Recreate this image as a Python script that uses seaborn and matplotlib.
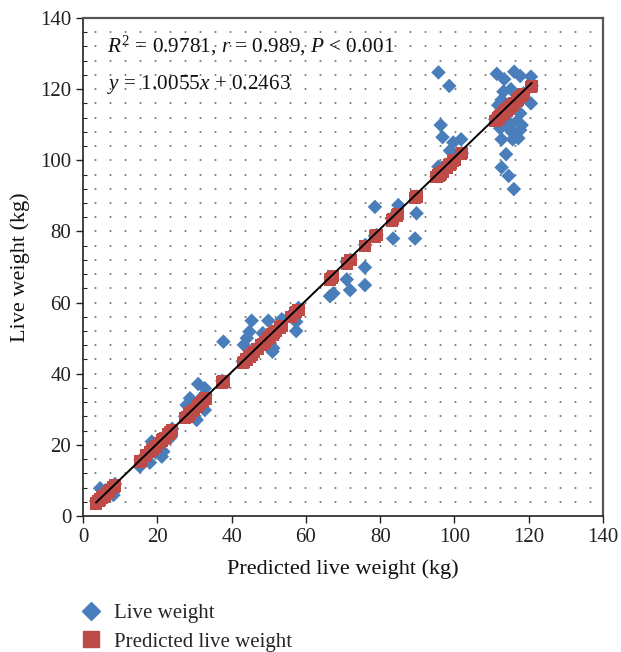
import numpy as np
import pandas as pd
import seaborn as sns
import matplotlib.pyplot as plt
from matplotlib.ticker import MultipleLocator
from matplotlib.lines import Line2D

# Predicted live weight (x) and observed live weight (y), kg
predicted = [
    3.5, 4.2, 4.6, 5.2, 5.5, 6.0, 6.5, 7.2, 8.2, 8.6,
    15.3, 15.5, 17.0, 18.0, 18.5, 18.8, 19.5, 20.5, 21.2, 21.6, 22.0, 23.0, 23.5, 24.0,
    27.5, 27.9, 28.5, 28.8, 29.3, 29.8, 30.6, 30.6, 31.0, 31.5, 32.0, 32.4, 32.8, 32.8, 33.0,
    37.5, 37.8,
    43.0, 43.3, 44.0, 44.1, 44.8, 45.0, 45.4, 46.0, 47.0, 48.0, 48.4, 49.0, 49.9, 50.0,
    50.3, 51.0, 51.2, 51.5, 52.0, 53.0, 53.5,
    56.0, 57.0, 57.4, 57.4, 58.0,
    66.5, 67.0, 67.4, 71.0, 71.0, 71.9, 72.0, 75.9, 75.9, 76.0,
    78.6, 78.6, 79.0, 83.1, 83.5, 84.5, 84.9, 89.4, 89.7, 89.8,
    95.2, 95.7, 95.7, 96.0, 96.3, 96.8, 97.0, 98.0, 98.6, 98.8, 99.0, 99.7, 100.0, 101.8, 102.0,
    111.4, 113.4, 116.1, 117.7, 120.6, 113.2, 115.2, 112.7, 111.8, 120.6, 117.7, 116.8, 118.1,
    117.7, 112.3, 114.5, 115.4, 112.7, 115.7, 117.2, 113.9, 112.7, 114.6, 116.0, 114.1,
    111.0, 112.0, 113.0, 114.0, 115.0, 116.0, 117.0, 118.6, 120.8,
]
live = [
    4.2, 4.8, 7.8, 5.5, 6.4, 7.2, 6.8, 8.0, 5.9, 9.0,
    13.9, 15.8, 16.0, 15.0, 20.9, 19.0, 19.8, 21.0, 16.7, 18.1, 22.5, 23.2, 22.0, 24.5,
    28.0, 31.2, 29.0, 33.1, 28.4, 30.0, 27.0, 31.5, 37.1, 32.0, 33.0, 33.8, 35.9, 29.8, 34.0,
    38.0, 49.0,
    43.5, 48.1, 44.0, 50.0, 51.8, 45.5, 54.9, 46.5, 47.5, 48.5, 51.4, 49.3, 54.9, 50.2,
    48.6, 46.2, 47.2, 51.5, 52.5, 53.0, 55.3,
    56.5, 57.5, 54.6, 52.0, 58.5,
    61.8, 67.0, 62.6, 66.5, 71.5, 63.5, 72.0, 69.9, 64.9, 76.2,
    86.9, 78.7, 79.0, 83.7, 78.0, 85.1, 87.4, 78.0, 89.8, 85.1,
    95.5, 124.7, 98.2, 96.5, 109.9, 106.5, 97.5, 98.5, 120.9, 102.7, 99.5, 105.0, 100.5, 105.9, 102.0,
    124.3, 122.8, 124.9, 123.7, 123.5, 119.3, 120.0, 117.0, 115.5, 116.0, 113.2, 110.9, 109.9,
    108.5, 109.0, 109.4, 108.0, 105.9, 105.9, 106.2, 101.7, 98.0, 95.6, 91.9, 111.3,
    111.5, 112.5, 113.5, 114.5, 115.5, 116.5, 117.5, 118.8, 121.0,
]

slope, intercept = 1.0055, 0.2463
stats_text = r"$R^2$ = 0.9781, $r$ = 0.989, $P$ < 0.001"
eq_text = r"$y$ = 1.0055$x$ + 0.2463"

df = pd.DataFrame({"predicted": predicted, "live": live})

sns.set_style("ticks")
plt.rcParams["font.family"] = ["Liberation Serif", "DejaVu Serif"]
plt.rcParams["mathtext.fontset"] = "custom"
plt.rcParams["mathtext.rm"] = "Liberation Serif"
plt.rcParams["mathtext.it"] = "Liberation Serif:italic"

blue = "#4A7EBB"
red = "#BE4B48"

fig = plt.figure(figsize=(6.21, 6.52), dpi=100)
ax = fig.add_axes([0.1337, 0.2086, 0.8373, 0.7638])

# dotted horizontal grid every 4 kg
for gy in np.arange(4, 140, 4):
    ax.axhline(gy, color="#666666", lw=1.2, linestyle=(2, (1.0, 8.0)), zorder=0)

sns.scatterplot(data=df, x="predicted", y="live", marker="D", s=55, color=blue,
                edgecolor="none", ax=ax, zorder=2)
sns.scatterplot(x=df["predicted"], y=df["predicted"], marker="s", s=78, color=red,
                edgecolor="none", ax=ax, zorder=3)

xl = np.array([df["predicted"].min(), df["predicted"].max()])
ax.plot(xl, slope * xl + intercept, color="black", lw=1.4, zorder=4)

ax.set_xlim(0, 140)
ax.set_ylim(0, 140)
ax.xaxis.set_major_locator(MultipleLocator(20))
ax.yaxis.set_major_locator(MultipleLocator(20))
ax.yaxis.set_minor_locator(MultipleLocator(4))
ax.tick_params(axis="both", which="major", direction="out", length=5, width=1,
               labelsize=15, colors="#222222")
ax.tick_params(axis="y", which="minor", direction="in", length=3, width=0.8)

for side in ["left", "bottom"]:
    ax.spines[side].set_color("#222222")
    ax.spines[side].set_linewidth(1.2)
for side in ["top", "right"]:
    ax.spines[side].set_color("#555555")
    ax.spines[side].set_linewidth(1.6)

ax.set_xlabel("Predicted live weight (kg)", fontsize=16, labelpad=9, color="#111111")
ax.set_ylabel("Live weight (kg)", fontsize=16, labelpad=7, color="#111111")

ax.text(0.046, 0.943, stats_text, transform=ax.transAxes, fontsize=15.3,
        ha="left", va="center", color="#111111")
ax.text(0.046, 0.866, eq_text, transform=ax.transAxes, fontsize=15.3,
        ha="left", va="center", color="#111111")

handles = [
    Line2D([], [], marker="D", color=blue, linestyle="none", markersize=9),
    Line2D([], [], marker="s", color=red, linestyle="none", markersize=12),
]
fig.legend(handles, ["Live weight", "Predicted live weight"], loc="upper left",
           bbox_to_anchor=(0.117, 0.087), frameon=False, fontsize=15,
           handlelength=1.0, handletextpad=0.6, labelspacing=0.42, borderaxespad=0)

fig.savefig("out.png", dpi=100)
